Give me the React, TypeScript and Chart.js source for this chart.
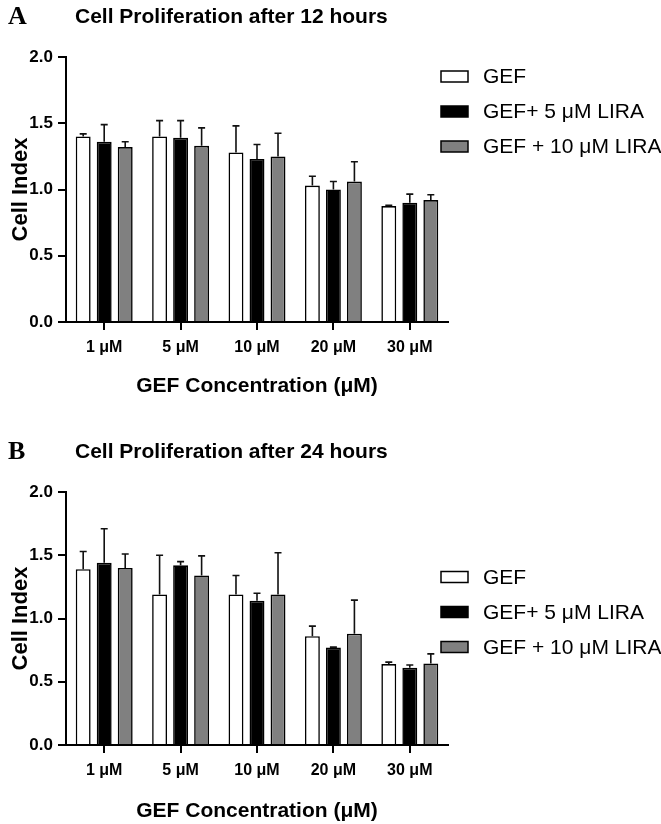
import React, { useEffect, useRef } from "react";
import { Chart, registerables } from "chart.js";

Chart.register(...registerables);

// ---------- data ----------
const categories = ["1 μM", "5 μM", "10 μM", "20 μM", "30 μM"];
const seriesNames = ["GEF", "GEF+ 5 μM LIRA", "GEF + 10 μM LIRA"];
const seriesColors = ["#ffffff", "#000000", "#808080"];

// Panel A: 12 hours (means and upper SD)
const gef12 = [1.4, 1.4, 1.28, 1.03, 0.875];
const gefLira5_12 = [1.36, 1.39, 1.23, 1.0, 0.9];
const gefLira10_12 = [1.32, 1.33, 1.25, 1.06, 0.92];
const gef12Err = [0.02, 0.12, 0.2, 0.07, 0.006];
const gefLira5_12Err = [0.13, 0.13, 0.11, 0.06, 0.065];
const gefLira10_12Err = [0.04, 0.135, 0.175, 0.15, 0.04];

// Panel B: 24 hours
const gef24 = [1.39, 1.19, 1.19, 0.86, 0.64];
const gefLira5_24 = [1.44, 1.42, 1.14, 0.77, 0.61];
const gefLira10_24 = [1.4, 1.34, 1.19, 0.88, 0.645];
const gef24Err = [0.14, 0.31, 0.15, 0.08, 0.015];
const gefLira5_24Err = [0.27, 0.03, 0.06, 0.004, 0.022];
const gefLira10_24Err = [0.11, 0.155, 0.33, 0.265, 0.075];

const yMin = 0;
const yMax = 2;
const yStep = 0.5;

const yTitle = "Cell Index";
const xTitle = "GEF Concentration (μM)";

type PanelCfg = {
  letter: string;
  title: string;
  values: number[][];
  errors: number[][];
  padTop: number;
  xAxisHeight: number;
  titleBaseline: number;
  xTitleOffset: number;
  legendYs: number[];
};

const panelA: PanelCfg = {
  letter: "A",
  title: "Cell Proliferation after 12 hours",
  values: [gef12, gefLira5_12, gefLira10_12],
  errors: [gef12Err, gefLira5_12Err, gefLira10_12Err],
  padTop: 57,
  xAxisHeight: 90,
  titleBaseline: 23,
  xTitleOffset: 64,
  legendYs: [76.5, 111.5, 146.5],
};

const panelB: PanelCfg = {
  letter: "B",
  title: "Cell Proliferation after 24 hours",
  values: [gef24, gefLira5_24, gefLira10_24],
  errors: [gef24Err, gefLira5_24Err, gefLira10_24Err],
  padTop: 80,
  xAxisHeight: 79,
  titleBaseline: 46,
  xTitleOffset: 66,
  legendYs: [165, 200, 235],
};

const W = 661;
const H = 412;
const SANS = '"Liberation Sans", Arial, sans-serif';
const SERIF = '"Liberation Serif", "Times New Roman", serif';

function Panel({ cfg, top }: { cfg: PanelCfg; top: number }) {
  const ref = useRef<HTMLCanvasElement | null>(null);

  useEffect(() => {
    if (!ref.current) return;

    const errorBars = {
      id: "errorBars",
      afterDatasetsDraw(chart: any) {
        const ctx = chart.ctx;
        const yScale = chart.scales.y;
        ctx.save();
        ctx.strokeStyle = "#111";
        ctx.lineWidth = 1.6;
        chart.data.datasets.forEach((ds: any, di: number) => {
          const meta = chart.getDatasetMeta(di);
          meta.data.forEach((el: any, i: number) => {
            const v = ds.data[i];
            const e = cfg.errors[di][i];
            const yTop = yScale.getPixelForValue(v);
            const yErr = yScale.getPixelForValue(v + e);
            ctx.beginPath();
            ctx.moveTo(el.x, yTop);
            ctx.lineTo(el.x, yErr);
            ctx.moveTo(el.x - 3.5, yErr);
            ctx.lineTo(el.x + 3.5, yErr);
            ctx.stroke();
          });
        });
        ctx.restore();
      },
    };

    const texts = {
      id: "texts",
      afterDraw(chart: any) {
        const ctx = chart.ctx;
        const ca = chart.chartArea;
        ctx.save();
        ctx.fillStyle = "#000";
        ctx.textAlign = "left";
        ctx.textBaseline = "alphabetic";
        ctx.font = `bold 26px ${SERIF}`;
        ctx.fillText(cfg.letter, 8, cfg.titleBaseline + 1);
        ctx.font = `bold 21px ${SANS}`;
        ctx.fillText(cfg.title, 75, cfg.titleBaseline);

        // x title
        ctx.textAlign = "center";
        ctx.textBaseline = "middle";
        ctx.font = `bold 21px ${SANS}`;
        ctx.fillText(xTitle, (ca.left + ca.right) / 2, ca.bottom + cfg.xTitleOffset);

        // y title
        ctx.save();
        ctx.translate(21, (ca.top + ca.bottom) / 2);
        ctx.rotate(-Math.PI / 2);
        ctx.font = `bold 22px ${SANS}`;
        ctx.fillText(yTitle, 0, 0);
        ctx.restore();

        // legend
        ctx.textAlign = "left";
        ctx.textBaseline = "middle";
        ctx.font = `21px ${SANS}`;
        seriesNames.forEach((name, i) => {
          const y = cfg.legendYs[i];
          ctx.fillStyle = seriesColors[i];
          ctx.fillRect(441, y - 5.5, 27, 11);
          ctx.strokeStyle = "#000";
          ctx.lineWidth = 1.5;
          ctx.strokeRect(441, y - 5.5, 27, 11);
          ctx.fillStyle = "#000";
          ctx.fillText(name, 483, y + 1);
        });
        ctx.restore();
      },
    };

    const xTickFont = { family: SANS, size: 16, weight: "bold" as const };
    const yTickFont = { family: SANS, size: 17, weight: "bold" as const };

    const chart = new Chart(ref.current, {
      type: "bar",
      data: {
        labels: categories,
        datasets: seriesNames.map((name, i) => ({
          label: name,
          data: cfg.values[i],
          backgroundColor: seriesColors[i],
          borderColor: "#000",
          borderWidth: 1.6,
          categoryPercentage: 0.825,
          barPercentage: 0.71,
        })),
      },
      options: {
        responsive: false,
        animation: false,
        layout: { padding: { left: 0, right: W - 448, top: cfg.padTop, bottom: 0 } },
        plugins: {
          legend: { display: false },
          tooltip: { enabled: false },
          title: { display: false },
        },
        scales: {
          x: {
            type: "category",
            offset: true,
            grid: {
              display: true,
              drawOnChartArea: false,
              drawTicks: true,
              tickLength: 8,
              offset: false,
              color: "#000",
              lineWidth: 2,
            },
            border: { display: true, color: "#000", width: 2 },
            ticks: {
              color: "#000",
              font: xTickFont,
              padding: 8,
              maxRotation: 0,
              autoSkip: false,
            },
            afterFit: (s: any) => {
              s.height = cfg.xAxisHeight;
            },
          },
          y: {
            min: yMin,
            max: yMax,
            grid: {
              display: true,
              drawOnChartArea: false,
              drawTicks: true,
              tickLength: 8,
              color: "#000",
              lineWidth: 2,
            },
            border: { display: true, color: "#000", width: 2 },
            ticks: {
              stepSize: yStep,
              color: "#000",
              font: yTickFont,
              padding: 5,
              callback: (v: any) => Number(v).toFixed(1),
            },
            afterFit: (s: any) => {
              s.width = 66;
            },
          },
        },
      },
      plugins: [errorBars, texts],
    });

    return () => chart.destroy();
  }, [cfg]);

  return (
    <canvas
      ref={ref}
      width={W}
      height={H}
      style={{ position: "absolute", left: 0, top, width: W, height: H, display: "block" }}
    />
  );
}

export default function App() {
  return (
    <div style={{ position: "absolute", left: 0, top: 0, width: W, height: 824, background: "#fff" }}>
      <Panel cfg={panelA} top={0} />
      <Panel cfg={panelB} top={H} />
    </div>
  );
}
